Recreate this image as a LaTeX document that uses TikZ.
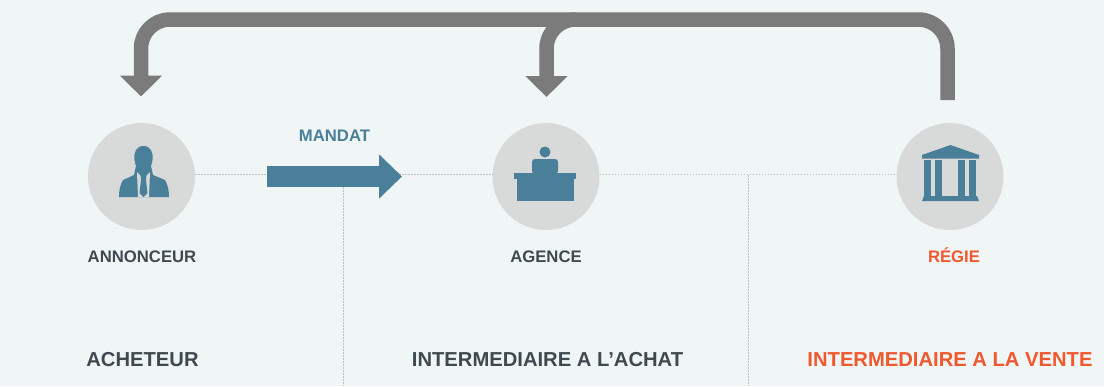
\documentclass[tikz,border=0pt]{standalone}
\usepackage{fontspec}
\setmainfont{Liberation Sans}
\usetikzlibrary{arrows.meta}
\definecolor{bgc}{HTML}{F0F5F6}
\definecolor{grayarrow}{HTML}{7B7B7B}
\definecolor{disc}{HTML}{D8D9D9}
\definecolor{bluei}{HTML}{4A7F99}
\definecolor{darkt}{HTML}{3F4A50}
\definecolor{orangeh}{HTML}{F0582E}
\definecolor{dots}{HTML}{B9BFC2}
\tikzset{
 x=1pt,y=-1pt,
 disc/.style={circle,fill=disc,minimum size=107pt,inner sep=0pt},
 lab/.style={inner sep=0pt,anchor=base,font=\fontsize{16.7}{20}\bfseries\selectfont,text=darkt},
 biglab/.style={inner sep=0pt,anchor=base,font=\fontsize{20.2}{24}\bfseries\selectfont,text=darkt},
 dotline/.style={draw=dots,line width=1pt,dash pattern=on 1.6pt off 1.4pt},
 backarrow/.style={draw=grayarrow,line width=14.5pt,rounded corners=29pt},
 backtip/.style={-{Triangle[length=21pt,width=41pt,color=grayarrow]}},
 mandatarrow/.style={draw=bluei,line width=21pt,-{Triangle[length=23pt,width=43pt,color=bluei]}},
}
\begin{document}
\begin{tikzpicture}
\useasboundingbox (0,0) rectangle (1104,386);
\fill[bgc] (0,0) rectangle (1104,386);
% nodes
\node[disc] (annonceur) at (141.5,176.5) {};
\node[disc] (agence) at (546,176.5) {};
\node[disc] (regie) at (950,176.5) {};
% dotted lines
\draw[dotline] (annonceur.east |- 0,174) -- (agence.west |- 0,174);
\draw[dotline] (agence.east |- 0,174) -- (regie.west |- 0,174);
\coordinate (v1t) at (343,187); \coordinate (v1b) at (343,386);
\coordinate (v2t) at (748,175); \coordinate (v2b) at (748,386);
\draw[dotline] (v1t) -- (v1b);
\draw[dotline] (v2t) -- (v2b);
% grey arrows
\coordinate (gs) at (947.5,100);
\coordinate (gtop) at (576,19.5);
\coordinate (gannon) at (141,96.5);
\coordinate (gagence) at (546.5,97);
\draw[backarrow,backtip] (gs) |- (gtop) -| (gannon);
\draw[backarrow,backtip] (gtop) -| (gagence);
% mandat arrow
\coordinate (ms) at (267,176.5);
\coordinate (me) at (402,176.5);
\draw[mandatarrow] (ms) -- (me);
% person icon
\fill[bluei] (143.5,146) .. controls (151,146) and (153.5,153) .. (152.5,160) .. controls (152,166) and (148,173) .. (143.5,173) .. controls (139,173) and (135,166) .. (134.5,160) .. controls (133.5,153) and (136,146) .. (143.5,146) -- cycle;
\fill[bluei] (136,166) -- (151,166) -- (153,175) -- (165,180) .. controls (168,185) and (169,191) .. (169,197) -- (119,197) .. controls (119,191) and (120,185) .. (123,180) -- (134,175) -- cycle;
\fill[disc] (137,172) -- (141,176) -- (146,176) -- (150,172) -- (149,197) -- (138,197) -- cycle;
\fill[bluei] (140.5,175) -- (146.5,175) -- (146,180) -- (147.5,193) -- (143.5,197) -- (139.5,193) -- (141,180) -- cycle;
% desk icon
\fill[bluei] (545,152) circle (5.5pt);
\fill[bluei,rounded corners=3pt] (532,174) -- (532,159) -- (558,159) -- (558,174) -- cycle;
\fill[bluei] (514,173) rectangle (576,179);
\fill[bluei] (517,179) rectangle (574,201);
% bank icon
\fill[bluei] (950.5,145) -- (979,155) -- (979,158.5) -- (922,158.5) -- (922,155) -- cycle;
\fill[bluei] (924,160) rectangle (931,196);
\fill[bluei] (935,160) rectangle (942,196);
\fill[bluei] (958,160) rectangle (965,196);
\fill[bluei] (969,160) rectangle (976,196);
\fill[bluei] (924,196) -- (977,196) -- (979,201) -- (922,201) -- cycle;
% labels
\node[lab,text=bluei] (mandat) at (334.5,141) {MANDAT};
\node[lab] (lannon) at (142,262) {ANNONCEUR};
\node[lab] (lagence) at (546,262) {AGENCE};
\node[lab,text=orangeh] (lregie) at (954,262) {RÉGIE};
\node[biglab] (acheteur) at (142.5,366) {ACHETEUR};
\node[biglab] (achat) at (547.5,366) {INTERMEDIAIRE A L'ACHAT};
\node[biglab,text=orangeh] (vente) at (950,366) {INTERMEDIAIRE A LA VENTE};
\end{tikzpicture}
\end{document}
